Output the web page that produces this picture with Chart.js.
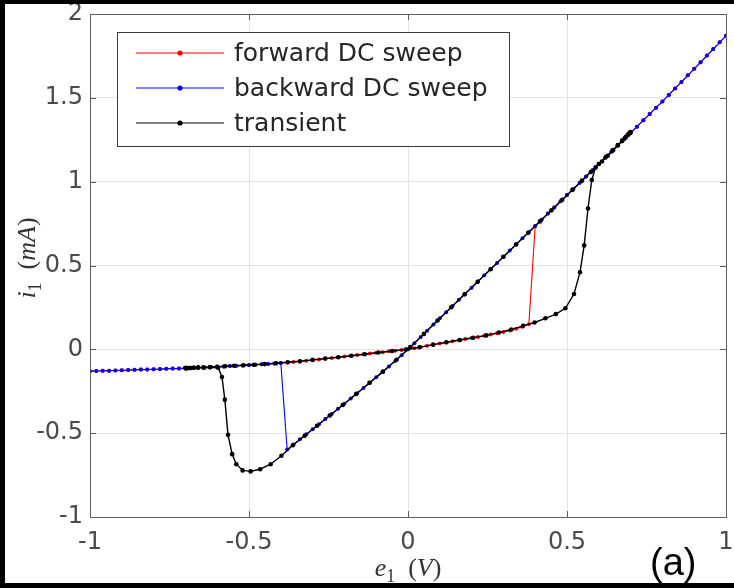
<!DOCTYPE html>
<html>
<head>
<meta charset="utf-8">
<script src="https://cdn.jsdelivr.net/npm/chart.js@4.4.0/dist/chart.umd.min.js"></script>
<style>
  html, body { margin: 0; padding: 0; background: #fff; }
  #wrap { position: relative; width: 734px; height: 588px; }
</style>
</head>
<body>
<div id="wrap"><canvas id="ivChart" width="734" height="588"></canvas></div>
<script>
// low-conductance branch of the DC characteristic (V, mA)
const lowerE = [
  -1.00, -0.98, -0.96, -0.94, -0.92, -0.90, -0.88, -0.86, -0.84, -0.82,
  -0.80, -0.78, -0.76, -0.74, -0.72, -0.70, -0.68, -0.66, -0.64, -0.62,
  -0.60, -0.58, -0.56, -0.54, -0.52, -0.50, -0.48, -0.46, -0.44, -0.42,
  -0.40, -0.38, -0.36, -0.34, -0.32, -0.30, -0.28, -0.26, -0.24, -0.22,
  -0.20, -0.18, -0.16, -0.14, -0.12, -0.10, -0.08, -0.06, -0.04, -0.02,
   0.00,  0.02,  0.04,  0.06,  0.08,  0.10,  0.12,  0.14,  0.16,  0.18,
   0.20,  0.22,  0.24,  0.26,  0.28,  0.30,  0.32,  0.34,  0.36,  0.38
];
const lowerI = [
  -0.130, -0.129, -0.128, -0.127, -0.126, -0.125, -0.124, -0.122, -0.121, -0.120,
  -0.119, -0.118, -0.116, -0.115, -0.114, -0.112, -0.111, -0.109, -0.108, -0.106,
  -0.104, -0.102, -0.100, -0.098, -0.096, -0.094, -0.092, -0.089, -0.087, -0.084,
  -0.081, -0.078, -0.075, -0.072, -0.068, -0.064, -0.060, -0.056, -0.052, -0.047,
  -0.043, -0.039, -0.034, -0.030, -0.025, -0.021, -0.017, -0.012, -0.008, -0.004,
   0.000,  0.007,  0.014,  0.021,  0.028,  0.035,  0.041,  0.048,  0.054,  0.061,
   0.067,  0.074,  0.081,  0.088,  0.096,  0.104,  0.113,  0.123,  0.134,  0.150
];

// high-conductance branch of the DC characteristic
const upperE = [
  -0.38, -0.36, -0.34, -0.32, -0.30, -0.28, -0.26, -0.24, -0.22, -0.20,
  -0.18, -0.16, -0.14, -0.12, -0.10, -0.08, -0.06, -0.04, -0.02,  0.00,
   0.02,  0.04,  0.06,  0.08,  0.10,  0.12,  0.14,  0.16,  0.18,  0.20,
   0.22,  0.24,  0.26,  0.28,  0.30,  0.32,  0.34,  0.36,  0.38,  0.40,
   0.42,  0.44,  0.46,  0.48,  0.50,  0.52,  0.54,  0.56,  0.58,  0.60,
   0.62,  0.64,  0.66,  0.68,  0.70,  0.72,  0.74,  0.76,  0.78,  0.80,
   0.82,  0.84,  0.86,  0.88,  0.90,  0.92,  0.94,  0.96,  0.98,  1.00
];
const upperI = [
  -0.597, -0.567, -0.537, -0.507, -0.477, -0.447, -0.416, -0.386, -0.355, -0.324,
  -0.293, -0.262, -0.231, -0.199, -0.167, -0.135, -0.102, -0.069, -0.035,  0.000,
   0.037,  0.074,  0.111,  0.148,  0.185,  0.221,  0.258,  0.295,  0.332,  0.368,
   0.405,  0.442,  0.479,  0.515,  0.552,  0.589,  0.626,  0.662,  0.699,  0.736,
   0.773,  0.810,  0.846,  0.883,  0.920,  0.957,  0.994,  1.031,  1.068,  1.105,
   1.142,  1.179,  1.216,  1.254,  1.291,  1.328,  1.366,  1.403,  1.441,  1.478,
   1.517,  1.556,  1.595,  1.634,  1.673,  1.712,  1.752,  1.791,  1.831,  1.870
];

// switching voltages of the DC sweeps
const forwardSwitchE = 0.38;
const backwardSwitchE = -0.38;

// transient simulation, one period of the sine drive
const tranE = [
  -0.700, -0.698, -0.693, -0.685, -0.674, -0.660, -0.643, -0.623, -0.600, -0.575,
  -0.547, -0.517, -0.485, -0.451, -0.415, -0.378, -0.340, -0.300, -0.260, -0.219,
  -0.178, -0.136, -0.093, -0.050, -0.007,  0.036,  0.079,  0.121,  0.163,  0.205,
   0.246,  0.286,  0.325,  0.362,  0.398,  0.432,  0.465,  0.495,  0.522,  0.541,
   0.554,  0.566,  0.578,  0.590,  0.610,  0.628,  0.645,  0.660,  0.673,  0.683,
   0.691,  0.696,  0.699,  0.700,  0.698,  0.693,  0.685,  0.674,  0.660,  0.643,
   0.623,  0.600,  0.575,  0.547,  0.517,  0.485,  0.451,  0.415,  0.378,  0.340,
   0.300,  0.260,  0.219,  0.178,  0.136,  0.093,  0.050,  0.007, -0.036, -0.079,
  -0.121, -0.163, -0.205, -0.246, -0.286, -0.325, -0.362, -0.398, -0.432, -0.465,
  -0.495, -0.520, -0.540, -0.553, -0.566, -0.576, -0.585, -0.597, -0.623, -0.643,
  -0.660, -0.674, -0.685, -0.693, -0.698, -0.700
];
const tranI = [
  -0.112, -0.112, -0.112, -0.111, -0.110, -0.109, -0.108, -0.106, -0.104, -0.101,
  -0.098, -0.095, -0.092, -0.088, -0.083, -0.077, -0.071, -0.063, -0.055, -0.047,
  -0.038, -0.029, -0.019, -0.010, -0.001,  0.012,  0.028,  0.042,  0.056,  0.069,
   0.083,  0.100,  0.118,  0.140,  0.160,  0.185,  0.210,  0.245,  0.330,  0.460,
   0.620,  0.840,  1.010,  1.085,  1.120,  1.155,  1.188,  1.217,  1.242,  1.262,
   1.278,  1.288,  1.294,  1.296,  1.292,  1.282,  1.267,  1.246,  1.219,  1.186,
   1.148,  1.105,  1.058,  1.006,  0.951,  0.892,  0.829,  0.763,  0.695,  0.625,
   0.552,  0.478,  0.403,  0.328,  0.251,  0.172,  0.092,  0.013, -0.062, -0.133,
  -0.200, -0.266, -0.332, -0.395, -0.456, -0.515, -0.572, -0.635, -0.685, -0.715,
  -0.728, -0.722, -0.685, -0.625, -0.510, -0.300, -0.165, -0.110, -0.107, -0.108,
  -0.109, -0.110, -0.111, -0.112, -0.112, -0.112
];

const xTicks = [-1, -0.5, 0, 0.5, 1];
const xTickLabels = ['-1', '-0.5', '0', '0.5', '1'];
const yTicks = [-1, -0.5, 0, 0.5, 1, 1.5, 2];
const yTickLabels = ['-1', '-0.5', '0', '0.5', '1', '1.5', '2'];

const seriesNames = ['forward DC sweep', 'backward DC sweep', 'transient'];
const seriesColors = ['#ff0000', '#0000ff', '#000000'];

const toPoints = (xs, ys) => xs.map((x, i) => ({ x: x, y: ys[i] }));
const lowerPts = toPoints(lowerE, lowerI);
const upperPts = toPoints(upperE, upperI);

// forward sweep: low branch up to the switch, then the high branch
const forwardPts = lowerPts.filter(p => p.x <= forwardSwitchE)
  .concat(upperPts.filter(p => p.x > forwardSwitchE));
// backward sweep: high branch down to the switch, then the low branch
const backwardPts = upperPts.filter(p => p.x >= backwardSwitchE).reverse()
  .concat(lowerPts.filter(p => p.x < backwardSwitchE).reverse());
const tranPts = toPoints(tranE, tranI);

const axisGray = '#5f5f5f';
const gridGray = '#e4e4e4';
const labelGray = '#4a4a4a';
const sansFamily = '"DejaVu Sans", Verdana, sans-serif';
const tagFamily = '"Liberation Sans", Arial, sans-serif';
const serifFamily = '"Liberation Serif", "DejaVu Serif", "Times New Roman", serif';

// write a short math-style label: italic symbols, upright parens, subscripts
function drawMath(ctx, parts, cx, baseline, size) {
  const fontFor = p => (p.italic ? 'italic ' : '') + Math.round(p.sub ? size * 0.7 : size) + 'px ' + serifFamily;
  const widthOf = p => { ctx.font = fontFor(p); return p.gap || ctx.measureText(p.t).width; };
  const width = parts.reduce((w, p) => w + widthOf(p), 0);
  let x = cx - width / 2;
  ctx.textAlign = 'left';
  ctx.textBaseline = 'alphabetic';
  parts.forEach(p => {
    const w = widthOf(p);
    if (!p.gap) ctx.fillText(p.t, x, baseline + (p.sub ? size * 0.22 : 0));
    x += w;
  });
}

const decorations = {
  id: 'decorations',
  beforeDraw(chart) {
    const ctx = chart.ctx;
    ctx.save();
    ctx.fillStyle = '#fff';
    ctx.fillRect(0, 0, chart.width, chart.height);
    ctx.restore();
  },
  afterDraw(chart) {
    const { ctx, chartArea: a, scales } = chart;
    ctx.save();

    // axes box with inward ticks
    ctx.strokeStyle = axisGray;
    ctx.lineWidth = 1;
    ctx.strokeRect(a.left + 0.5, a.top + 0.5, a.right - a.left, a.bottom - a.top);
    ctx.beginPath();
    xTicks.forEach(v => {
      const px = Math.round(scales.x.getPixelForValue(v)) + 0.5;
      ctx.moveTo(px, a.bottom); ctx.lineTo(px, a.bottom - 6);
      ctx.moveTo(px, a.top); ctx.lineTo(px, a.top + 6);
    });
    yTicks.forEach(v => {
      const py = Math.round(scales.y.getPixelForValue(v)) + 0.5;
      ctx.moveTo(a.left, py); ctx.lineTo(a.left + 6, py);
      ctx.moveTo(a.right, py); ctx.lineTo(a.right - 6, py);
    });
    ctx.stroke();

    // legend
    const lx = 117, ly = 32, lw = 392, lh = 114;
    ctx.fillStyle = '#fff';
    ctx.fillRect(lx, ly, lw, lh);
    ctx.strokeStyle = '#3c3c3c';
    ctx.strokeRect(lx + 0.5, ly + 0.5, lw, lh);
    seriesNames.forEach((name, i) => {
      const rowY = 53 + i * 35;
      ctx.strokeStyle = seriesColors[i];
      ctx.lineWidth = 1.2;
      ctx.beginPath();
      ctx.moveTo(136, rowY); ctx.lineTo(224, rowY);
      ctx.stroke();
      ctx.fillStyle = seriesColors[i];
      ctx.beginPath();
      ctx.arc(180, rowY, 2.6, 0, Math.PI * 2);
      ctx.fill();
      ctx.fillStyle = '#262626';
      ctx.font = '25px ' + sansFamily;
      ctx.textAlign = 'left';
      ctx.textBaseline = 'middle';
      ctx.fillText(name, 234, rowY + 1);
    });

    // axis titles
    ctx.fillStyle = '#333';
    drawMath(ctx, [
      { t: 'e', italic: true }, { t: '1', sub: true }, { gap: 13 }, { t: '(' }, { t: 'V', italic: true }, { t: ')' }
    ], (a.left + a.right) / 2, 576, 26);
    ctx.save();
    ctx.translate(35, 258);
    ctx.rotate(-Math.PI / 2);
    drawMath(ctx, [
      { t: 'i', italic: true }, { t: '1', sub: true }, { gap: 13 }, { t: '(' }, { t: 'mA', italic: true }, { t: ')' }
    ], 0, 0, 26);
    ctx.restore();

    // panel tag
    ctx.fillStyle = '#000';
    ctx.font = '38px ' + tagFamily;
    ctx.textAlign = 'left';
    ctx.textBaseline = 'alphabetic';
    ctx.fillText('(a)', 650, 575);

    // outer frame
    ctx.fillRect(0, 0, chart.width, 4);
    ctx.fillRect(0, 0, 5, chart.height);
    ctx.fillRect(0, chart.height - 5, chart.width, 5);
    ctx.restore();
  }
};

const tickFont = { family: sansFamily, size: 24 };

new Chart(document.getElementById('ivChart'), {
  type: 'scatter',
  data: {
    datasets: [
      {
        label: seriesNames[0], data: forwardPts, showLine: true, order: 2,
        borderColor: seriesColors[0], backgroundColor: seriesColors[0],
        borderWidth: 1.1, pointRadius: 2, pointBorderWidth: 0
      },
      {
        label: seriesNames[1], data: backwardPts, showLine: true, order: 1,
        borderColor: seriesColors[1], backgroundColor: seriesColors[1],
        borderWidth: 1.1, pointRadius: 2, pointBorderWidth: 0
      },
      {
        label: seriesNames[2], data: tranPts, showLine: true, order: 0,
        borderColor: seriesColors[2], backgroundColor: seriesColors[2],
        borderWidth: 1.4, pointRadius: 2.3, pointBorderWidth: 0
      }
    ]
  },
  options: {
    responsive: false,
    animation: false,
    devicePixelRatio: 1,
    layout: { padding: { left: 0, right: 8, top: 14, bottom: 0 } },
    plugins: { legend: { display: false }, tooltip: { enabled: false } },
    scales: {
      x: {
        type: 'linear', min: -1, max: 1,
        afterBuildTicks: s => { s.ticks = xTicks.map(v => ({ value: v })); },
        afterFit: s => { s.height = 71; s.paddingLeft = 0; s.paddingRight = 0; },
        grid: { color: gridGray, drawTicks: false },
        border: { display: false },
        ticks: { padding: 11, color: labelGray, font: tickFont, maxRotation: 0,
                 callback: (v, i) => xTickLabels[i] }
      },
      y: {
        type: 'linear', min: -1, max: 2,
        afterBuildTicks: s => { s.ticks = yTicks.map(v => ({ value: v })); },
        afterFit: s => { s.width = 90; s.paddingTop = 0; s.paddingBottom = 0; },
        grid: { color: gridGray, drawTicks: false },
        border: { display: false },
        ticks: { padding: 7, color: labelGray, font: tickFont,
                 callback: (v, i) => yTickLabels[i] }
      }
    }
  },
  plugins: [decorations]
});
</script>
</body>
</html>
